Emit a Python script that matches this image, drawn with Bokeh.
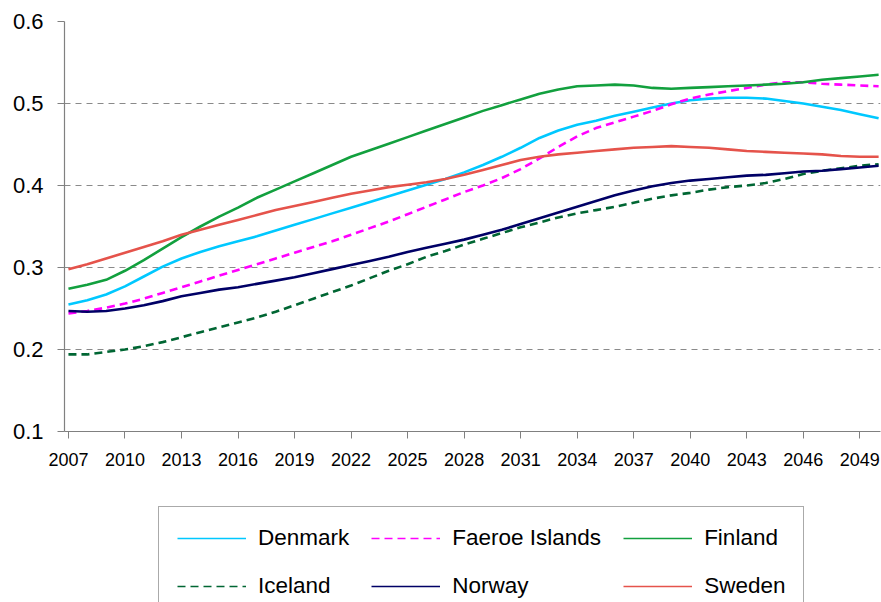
from bokeh.plotting import figure
from bokeh.layouts import column
from bokeh.models import Legend, LegendItem, FixedTicker, PrintfTickFormatter, Range1d
from bokeh.embed import file_html
from bokeh.resources import INLINE

years = list(range(2007, 2051))

denmark = [0.255, 0.260, 0.267, 0.277, 0.289, 0.301, 0.311, 0.319, 0.326, 0.332,
           0.338, 0.345, 0.352, 0.359, 0.366, 0.373, 0.380, 0.387, 0.394, 0.401,
           0.408, 0.416, 0.425, 0.435, 0.446, 0.458, 0.467, 0.474, 0.479, 0.485,
           0.490, 0.495, 0.500, 0.504, 0.506, 0.507, 0.507, 0.506, 0.503, 0.500,
           0.496, 0.492, 0.487, 0.482]
faeroe = [0.244, 0.247, 0.251, 0.256, 0.262, 0.269, 0.276, 0.283, 0.290, 0.297,
          0.304, 0.311, 0.318, 0.325, 0.332, 0.340, 0.348, 0.356, 0.365, 0.374,
          0.383, 0.392, 0.400, 0.409, 0.420, 0.433, 0.447, 0.460, 0.470, 0.477,
          0.484, 0.491, 0.499, 0.506, 0.511, 0.515, 0.519, 0.523, 0.526, 0.526,
          0.524, 0.523, 0.522, 0.521]
finland = [0.274, 0.279, 0.285, 0.296, 0.309, 0.323, 0.337, 0.350, 0.362, 0.373,
           0.385, 0.395, 0.405, 0.415, 0.425, 0.435, 0.443, 0.451, 0.459, 0.467,
           0.475, 0.483, 0.491, 0.498, 0.505, 0.512, 0.517, 0.521, 0.522, 0.523,
           0.522, 0.519, 0.518, 0.519, 0.520, 0.521, 0.522, 0.523, 0.524, 0.526,
           0.529, 0.531, 0.533, 0.535]
iceland = [0.194, 0.194, 0.197, 0.200, 0.204, 0.209, 0.215, 0.221, 0.227, 0.233,
           0.239, 0.246, 0.254, 0.262, 0.270, 0.278, 0.287, 0.296, 0.304, 0.313,
           0.320, 0.328, 0.335, 0.342, 0.349, 0.355, 0.361, 0.366, 0.370, 0.374,
           0.379, 0.384, 0.388, 0.391, 0.395, 0.398, 0.400, 0.403, 0.408, 0.414,
           0.418, 0.421, 0.424, 0.426]
norway = [0.247, 0.246, 0.247, 0.250, 0.254, 0.259, 0.265, 0.269, 0.273, 0.276,
          0.280, 0.284, 0.288, 0.293, 0.298, 0.303, 0.308, 0.313, 0.319, 0.324,
          0.329, 0.334, 0.340, 0.346, 0.353, 0.360, 0.367, 0.374, 0.381, 0.388,
          0.394, 0.399, 0.403, 0.406, 0.408, 0.410, 0.412, 0.413, 0.415, 0.417,
          0.418, 0.420, 0.422, 0.424]
sweden = [0.298, 0.304, 0.311, 0.318, 0.325, 0.332, 0.340, 0.346, 0.352, 0.358,
          0.364, 0.370, 0.375, 0.380, 0.385, 0.390, 0.394, 0.398, 0.401, 0.404,
          0.408, 0.413, 0.419, 0.425, 0.431, 0.435, 0.438, 0.440, 0.442, 0.444,
          0.446, 0.447, 0.448, 0.447, 0.446, 0.444, 0.442, 0.441, 0.440, 0.439,
          0.438, 0.436, 0.435, 0.435]

names = ["Denmark", "Faeroe Islands", "Finland", "Iceland", "Norway", "Sweden"]
series = [denmark, faeroe, finland, iceland, norway, sweden]
colors = ["#00C8FF", "#FF00FF", "#12A03E", "#006633", "#000066", "#E5534B"]
dashes = ["solid", "8 5", "solid", "8 5", "solid", "solid"]

x_ticks = list(range(2007, 2051, 3))
y_ticks = [0.1, 0.2, 0.3, 0.4, 0.5, 0.6]
grid_ticks = [0.2, 0.3, 0.4, 0.5, 0.6]

FONT = "Liberation Sans"

p = figure(width=881, height=490, output_backend="svg", toolbar_location=None,
           x_range=Range1d(2006.79, 2050.1), y_range=Range1d(0.1, 0.6),
           min_border_left=64, min_border_right=1, min_border_top=21,
           min_border_bottom=59)
p.outline_line_color = None
p.background_fill_color = "white"

for vals, col, dash in zip(series, colors, dashes):
    p.line(years, vals, line_color=col, line_width=2.6, line_dash=dash)

p.xgrid.visible = False
p.ygrid.ticker = FixedTicker(ticks=grid_ticks)
p.ygrid.grid_line_color = "#8a8a8a"
p.ygrid.grid_line_dash = "6 5"
p.ygrid.grid_line_width = 1

for ax in (p.xaxis[0], p.yaxis[0]):
    ax.axis_line_color = "#808080"
    ax.axis_line_width = 1.2
    ax.major_tick_line_color = "#808080"
    ax.major_tick_in = 0
    ax.major_tick_out = 7
    ax.minor_tick_in = 0
    ax.minor_tick_out = 0
    ax.major_label_text_font = FONT
    ax.major_label_text_color = "black"

p.xaxis.ticker = FixedTicker(ticks=x_ticks)
p.xaxis.formatter = PrintfTickFormatter(format="%d")
p.xaxis.major_label_text_font_size = "18px"
p.xaxis.major_label_standoff = 14

p.yaxis.ticker = FixedTicker(ticks=y_ticks)
p.yaxis.formatter = PrintfTickFormatter(format="%.1f")
p.yaxis.major_label_text_font_size = "22px"
p.yaxis.major_label_standoff = 14

# legend panel (its own frame; the series drawn here lie outside its view)
lg = figure(width=881, height=112, output_backend="svg", toolbar_location=None,
            x_range=Range1d(0, 1), y_range=Range1d(0, 1),
            x_axis_location=None, y_axis_location=None,
            min_border_left=0, min_border_right=0, min_border_top=0,
            min_border_bottom=0)
lg.outline_line_color = None
lg.grid.visible = False

items = []
for name, vals, col, dash in zip(names, series, colors, dashes):
    r = lg.line(years, vals, line_color=col, line_width=1.7, line_dash=dash)
    items.append(LegendItem(label=name, renderers=[r]))

legend = Legend(items=items, orientation="horizontal", ncols=3,
                location=(94, -16),
                border_line_color="#555555", border_line_width=1,
                background_fill_color="white", background_fill_alpha=1,
                label_text_font=FONT, label_text_font_size="22.5px",
                label_text_color="black",
                glyph_width=69, glyph_height=20, label_standoff=12,
                spacing=22, padding=18, margin=0)
lg.add_layout(legend)

layout = column(p, lg, spacing=0)
open("out.html", "w").write(file_html(layout, INLINE))
